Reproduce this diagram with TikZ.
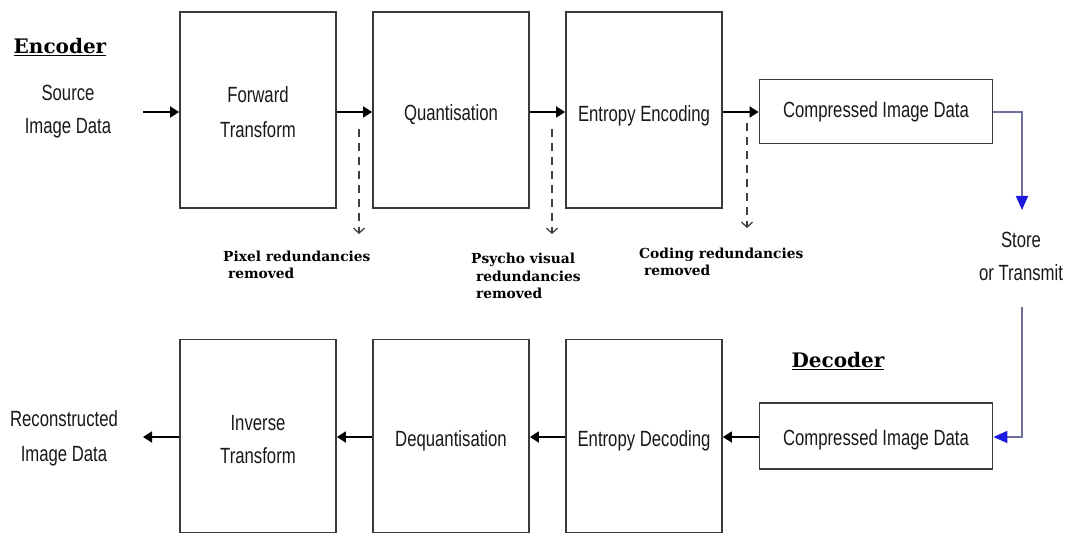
\documentclass[tikz,border=0pt]{standalone}
\usepackage{fontspec}
\setmainfont{Liberation Sans}
\newfontfamily\boxfont{Liberation Sans}[FakeStretch=0.76]
\newfontfamily\labfont{DejaVu Serif}
\usetikzlibrary{arrows.meta}
\definecolor{boxline}{HTML}{3A3A3A}
\definecolor{linkline}{HTML}{7070A0}
\definecolor{tipblue}{HTML}{1A1AE0}
\begin{document}
\begin{tikzpicture}[x=1pt,y=-1pt,
  blk/.style={draw=boxline,line width=1.8pt,fill=white,inner sep=0pt},
  bigblk/.style={blk,minimum width=156pt,minimum height=196pt},
  cmpblk/.style={blk,minimum width=233pt,minimum height=64pt},
  txt/.style={font=\boxfont\fontsize{22}{33}\selectfont,text=black!90,align=center,inner sep=0pt},
  arr/.style={line width=1.8pt,-{Triangle[length=9pt,width=11pt]}},
  dsh/.style={line width=1.6pt,black!75,dash pattern=on 8pt off 6pt,-{Straight Barb[length=5pt,width=11pt,line width=1.3pt]}},
  lnk/.style={line width=1.6pt,linkline},
  lnkarr/.style={lnk,-{Triangle[length=14pt,width=12pt,color=tipblue]}},
  lab/.style={font=\labfont\bfseries\fontsize{13.8}{17.5}\selectfont,align=left,inner sep=0pt,anchor=west},
  head/.style={font=\labfont\bfseries\fontsize{20}{22}\selectfont,inner sep=0pt}
]
\useasboundingbox (0,0) rectangle (1067,534);

% top row
\node[bigblk] (fwd) at (258,110) {};
\node[bigblk] (qnt) at (451,110) {};
\node[bigblk] (ent) at (644,110) {};
\node[cmpblk] (cmp1) at (876,111.5) {};
\node[txt,font=\boxfont\fontsize{22}{35}\selectfont] (fwdt) at ([yshift=-2pt]fwd) {Forward\\Transform};
\node[txt] (qntt) at ([yshift=-4.5pt]qnt) {Quantisation};
\node[txt] (entt) at ([yshift=-5.5pt]ent) {Entropy Encoding};
\node[txt] (cmp1t) at ([yshift=-0.5pt]cmp1) {Compressed Image Data};

% bottom row
\node[bigblk,minimum height=193pt] (inv) at (258,436) {};
\node[bigblk,minimum height=193pt] (deq) at (451,436) {};
\node[bigblk,minimum height=193pt] (edc) at (644,436) {};
\node[cmpblk,minimum height=66pt] (cmp2) at (876,436) {};
\node[txt] (invt) at ([yshift=-4pt]inv) {Inverse\\Transform};
\node[txt] (deqt) at ([yshift=-5pt]deq) {Dequantisation};
\node[txt] (edct) at ([yshift=-5pt]edc) {Entropy Decoding};
\node[txt] (cmp2t) at ([yshift=-3.5pt]cmp2) {Compressed Image Data};

% side texts
\node[head] (enc) at (60,47) {\underline{Encoder}};
\node[head] (dec) at (838,361) {\underline{Decoder}};
\node[txt] (src) at (68,112) {Source\\Image Data};
\node[txt,font=\boxfont\fontsize{22}{35}\selectfont] (rec) at (64,438) {Reconstructed\\Image Data};
\node[txt] (st) at (1021,256) {Store\\or Transmit};

% top arrows
\coordinate (srce) at (143,112);
\draw[arr] (srce) -- (fwd.west |- srce);
\draw[arr] (fwd.east |- srce) -- (qnt.west |- srce);
\draw[arr] (qnt.east |- srce) -- (ent.west |- srce);
\draw[arr] (ent.east |- srce) -- (cmp1.west |- srce);

% bottom arrows
\coordinate (rece) at (143,437);
\draw[arr] (cmp2.west |- rece) -- (edc.east |- rece);
\draw[arr] (edc.west |- rece) -- (deq.east |- rece);
\draw[arr] (deq.west |- rece) -- (inv.east |- rece);
\draw[arr] (inv.west |- rece) -- (rece);

% dashed
\coordinate (d1s) at (359,129); \coordinate (d1e) at (359,234);
\coordinate (d2s) at (552,129); \coordinate (d2e) at (552,234);
\coordinate (d3s) at (747,123); \coordinate (d3e) at (747,228);
\draw[dsh] (d1s) -- (d1e);
\draw[dsh] (d2s) -- (d2e);
\draw[dsh] (d3s) -- (d3e);

% labels
\node[lab] (l1) at (223,265) {Pixel redundancies\\\ removed};
\node[lab] (l2) at (471,276) {Psycho visual\\\ redundancies\\\ removed};
\node[lab] (l3) at (639,262) {Coding redundancies\\\ removed};

% store / transmit link
\coordinate (k1) at (1022,112);
\coordinate (k2) at (1022,210);
\coordinate (k3) at (1022,307);
\coordinate (k4) at (1022,437);
\draw[lnkarr] (cmp1.east |- k1) -- (k1) -- (k2);
\draw[lnkarr] (k3) -- (k4) -- (cmp2.east |- k4);
\end{tikzpicture}
\end{document}
